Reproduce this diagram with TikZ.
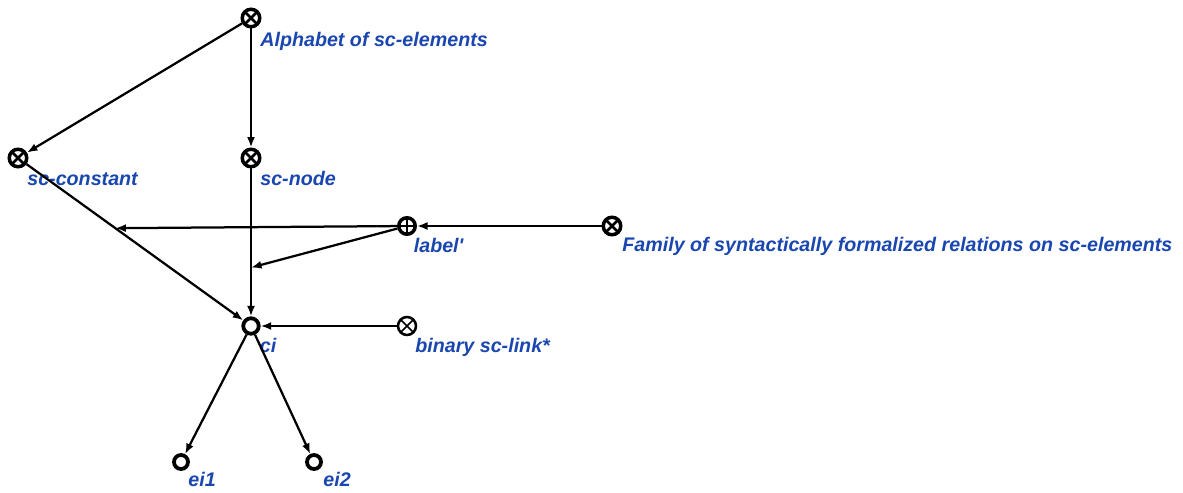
\documentclass[tikz,border=0pt]{standalone}
\usepackage{fontspec}
\newfontfamily\lblfont{Liberation Sans}
\usetikzlibrary{arrows.meta}
\definecolor{scblue}{RGB}{25,70,175}

\begin{document}
\begin{tikzpicture}[x=0.02cm,y=-0.02cm,>={Latex[length=0.21cm,width=0.16cm]}]
		\tikzstyle{cls}=[circle,draw,fill=white,line width=0.07cm,minimum size=0.35cm,inner sep=0pt,
			path picture={\draw[line width=0.055cm] (path picture bounding box.north west) -- (path picture bounding box.south east)
				(path picture bounding box.north east) -- (path picture bounding box.south west);}]
		\tikzstyle{rel}=[circle,draw,fill=white,line width=0.07cm,minimum size=0.33cm,inner sep=0pt,
			path picture={\draw[line width=0.045cm] (path picture bounding box.north) -- (path picture bounding box.south)
				(path picture bounding box.east) -- (path picture bounding box.west);}]
		\tikzstyle{lnk}=[circle,draw,fill=white,line width=0.05cm,minimum size=0.36cm,inner sep=0pt,
			path picture={\draw[line width=0.035cm] (path picture bounding box.north west) -- (path picture bounding box.south east)
				(path picture bounding box.north east) -- (path picture bounding box.south west);}]
		\tikzstyle{elem}=[circle,draw,fill=white,line width=0.075cm,minimum size=0.31cm,inner sep=0pt]
		\tikzstyle{lbl}=[font=\lblfont\fontsize{11.2}{13}\selectfont\bfseries\itshape,text=scblue,anchor=base west,inner sep=0pt]
		\tikzstyle{arc}=[->,line width=0.045cm]

		\useasboundingbox (0,0) rectangle (1183,493);

		\node[cls] (alph) at (251,18) {};
		\node[cls] (const) at (18,158) {};
		\node[cls] (scnode) at (251,158) {};
		\node[rel] (label) at (407,226) {};
		\node[cls] (family) at (612,226) {};
		\node[elem] (ci) at (251,326) {};
		\node[lnk] (link) at (407,326) {};
		\node[elem,minimum size=0.28cm] (ei1) at (181,462) {};
		\node[elem,minimum size=0.28cm] (ei2) at (314,462) {};

		\node[lbl] (alph-t) at ([xshift=0.18cm,yshift=-0.58cm]alph) {Alphabet of sc-elements};
		\node[lbl] (const-t) at ([xshift=0.18cm,yshift=-0.56cm]const) {sc-constant};
		\node[lbl] (scnode-t) at ([xshift=0.18cm,yshift=-0.56cm]scnode) {sc-node};
		\node[lbl] (label-t) at ([xshift=0.13cm,yshift=-0.54cm]label) {label'};
		\node[lbl] (family-t) at ([xshift=0.2cm,yshift=-0.52cm]family) {Family of syntactically formalized relations on sc-elements};
		\node[lbl] (ci-t) at ([xshift=0.17cm,yshift=-0.54cm]ci) {ci};
		\node[lbl] (link-t) at ([xshift=0.16cm,yshift=-0.54cm]link) {binary sc-link*};
		\node[lbl] (ei1-t) at ([xshift=0.14cm,yshift=-0.5cm]ei1) {ei1};
		\node[lbl] (ei2-t) at ([xshift=0.18cm,yshift=-0.5cm]ei2) {ei2};

		\draw[arc] (alph) -- (const);
		\draw[arc] (alph) -- (scnode);
		\draw[arc] (const) -- (ci) coordinate[pos=0.41] (m1);
		\draw[arc] (scnode) -- (ci) coordinate[pos=0.67] (m2);
		\draw[arc] (family) -- (label);
		\draw[arc] (link) -- (ci);
		\draw[arc] (label) -- (m1);
		\draw[arc] (label) -- (m2);
		\draw[arc] (ci) -- (ei1);
		\draw[arc] (ci) -- (ei2);
\end{tikzpicture}
\end{document}
